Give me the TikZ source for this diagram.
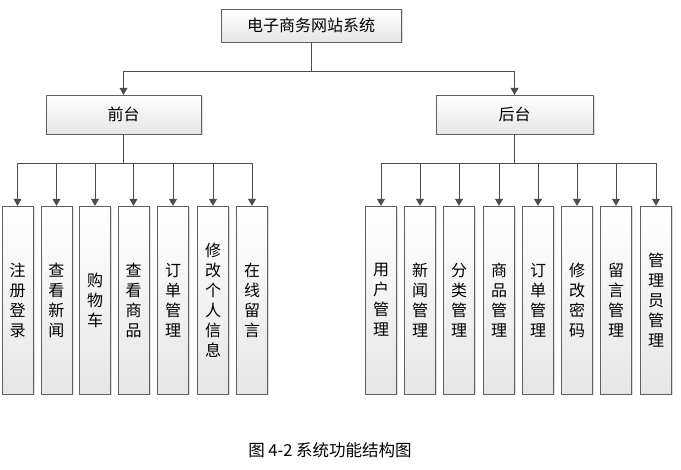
\documentclass[tikz,border=0pt]{standalone}
\usepackage{fontspec}
\setmainfont{Noto Sans CJK SC}
\usetikzlibrary{arrows.meta,shadows}
\tikzset{
  box/.style={draw=gray!75!black, top color=white, bottom color=gray!20, drop shadow={shadow xshift=1.5pt, shadow yshift=-1.5pt, fill=gray!50}, inner sep=0pt, font=\fontsize{16}{20}\selectfont},
  leaf/.style={box, minimum width=31pt, minimum height=188pt, align=center},
  link/.style={draw=gray!60!black, line width=0.8pt, -{Triangle[width=8pt,length=7pt]}}
}
\begin{document}
\begin{tikzpicture}[x=1pt, y=-1pt]
    \useasboundingbox[fill=white] (0,0) rectangle (681,470);
    \node[box, minimum width=180pt, minimum height=33pt] (top) at (311,25.5) {电子商务网站系统};
    \node[box, minimum width=155pt, minimum height=39pt] (front) at (123.5,114.5) {前台};
    \node[box, minimum width=157pt, minimum height=39pt] (back) at (514.5,114.5) {后台};
    % front leaves
    \node[leaf] (f1) at (17.5,300) {注\\册\\登\\录};
    \node[leaf] (f2) at (56.5,300) {查\\看\\新\\闻};
    \node[leaf] (f3) at (95,300) {购\\物\\车};
    \node[leaf] (f4) at (133.5,300) {查\\看\\商\\品};
    \node[leaf] (f5) at (173,300) {订\\单\\管\\理};
    \node[leaf] (f6) at (213,300) {修\\改\\个\\人\\信\\息};
    \node[leaf] (f7) at (252,300) {在\\线\\留\\言};
    % back leaves
    \node[leaf] (b1) at (381,300) {用\\户\\管\\理};
    \node[leaf] (b2) at (420,300) {新\\闻\\管\\理};
    \node[leaf] (b3) at (459,300) {分\\类\\管\\理};
    \node[leaf] (b4) at (499,300) {商\\品\\管\\理};
    \node[leaf] (b5) at (538,300) {订\\单\\管\\理};
    \node[leaf] (b6) at (577,300) {修\\改\\密\\码};
    \node[leaf] (b7) at (616,300) {留\\言\\管\\理};
    \node[leaf] (b8) at (656,300) {管\\理\\员\\管\\理};
    \node[font=\fontsize{16.5}{18}\selectfont] (cap) at (330,450) {图 4-2 系统功能结构图};
    \draw[link] (top.south) -- ++(0,29) -| (front.north);
    \draw[link] (top.south) -- ++(0,29) -| (back.north);
    \foreach \i in {1,...,7}
        \draw[link] (front.south) -- ++(0,29) -| (f\i.north);
    \foreach \i in {1,...,8}
        \draw[link] (back.south) -- ++(0,29) -| (b\i.north);
\end{tikzpicture}
\end{document}
